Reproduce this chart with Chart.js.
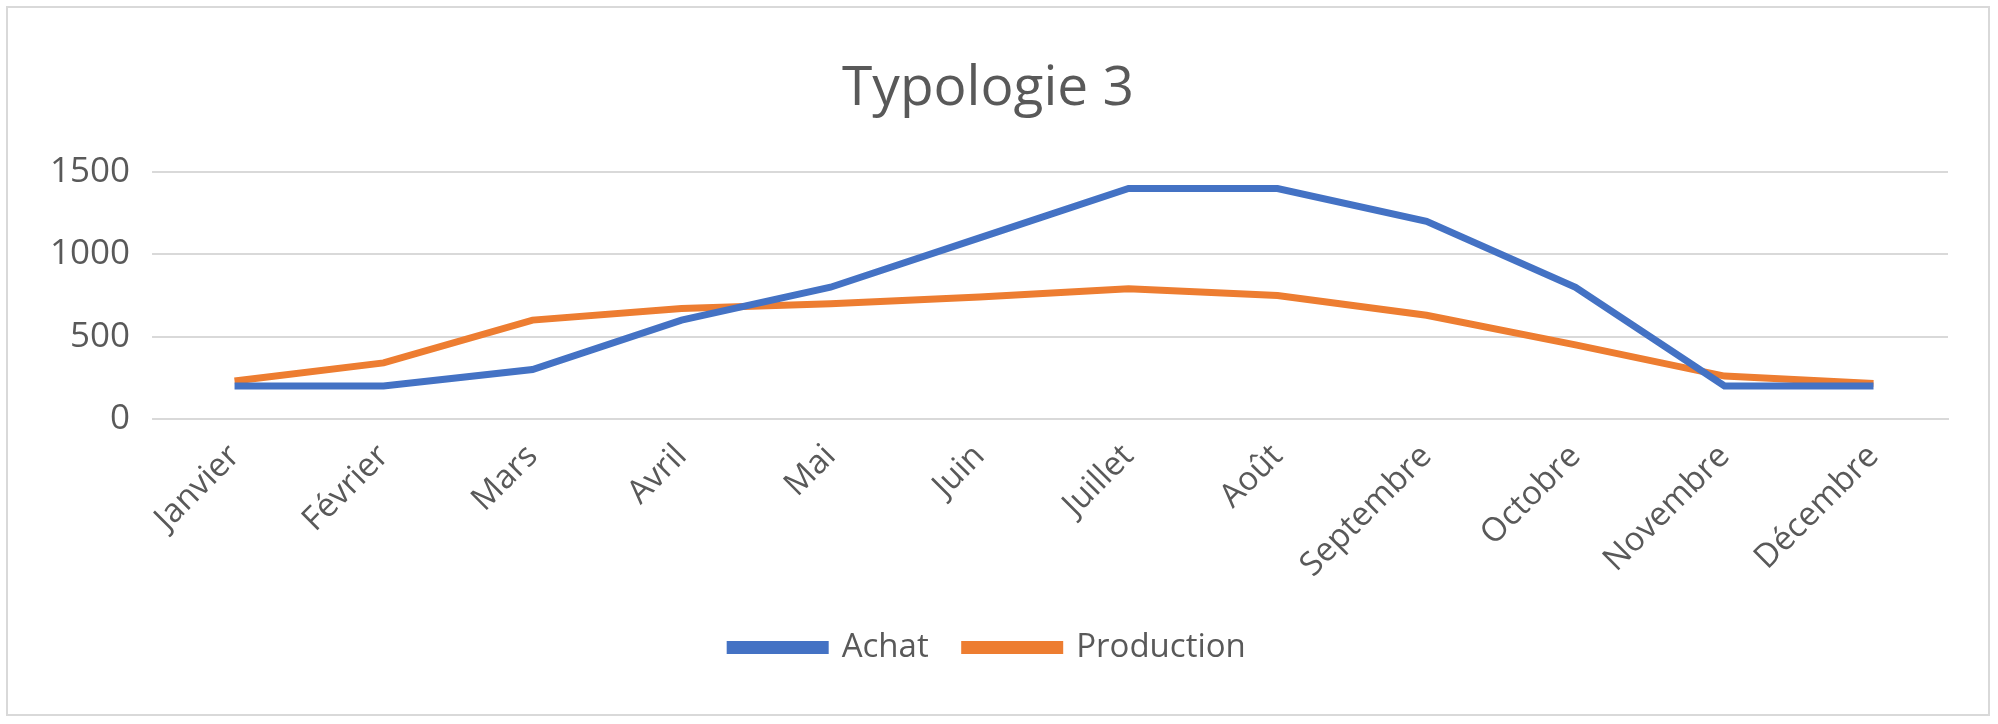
<!DOCTYPE html>
<html><head><meta charset="utf-8">
<script src="https://cdn.jsdelivr.net/npm/chart.js"></script>
<style>
html,body{margin:0;padding:0;background:#fff;}
#wrap{position:absolute;left:6px;top:6px;width:1984px;height:710px;border:2px solid #d9d9d9;box-sizing:border-box;}
</style></head>
<body><div id="wrap"><canvas id="c"></canvas></div>
<script>
const categories=['Janvier','Février','Mars','Avril','Mai','Juin','Juillet','Août','Septembre','Octobre','Novembre','Décembre'];
const achat=[200,200,300,600,800,1100,1400,1400,1200,800,200,200];
const production=[230,340,600,670,700,740,790,750,630,450,260,215];
const yTicks=[0,500,1000,1500];
Chart.defaults.font.family="'Open Sans','Noto Sans',sans-serif";
Chart.defaults.color='#595959';
new Chart(document.getElementById('c'),{
type:'line',
data:{labels:categories,datasets:[
{label:'Achat',data:achat,borderColor:'#4472c4',backgroundColor:'#4472c4',borderWidth:7,pointRadius:0,tension:0},
{label:'Production',data:production,borderColor:'#ed7d31',backgroundColor:'#ed7d31',borderWidth:7,pointRadius:0,tension:0}
]},
options:{responsive:true,maintainAspectRatio:false,animation:false,
layout:{padding:{left:20,right:40,top:20,bottom:40}},
plugins:{
title:{display:true,text:'Typologie 3',font:{size:55,weight:'normal'},color:'#595959',padding:{top:28,bottom:50}},
legend:{position:'bottom',labels:{boxWidth:95,boxHeight:6,font:{size:33},color:'#595959',padding:36}},
tooltip:{enabled:false}},
scales:{
x:{offset:true,grid:{display:false},border:{color:'#d9d9d9',width:2},
ticks:{maxRotation:45,minRotation:45,font:{size:33},color:'#595959',padding:10}},
y:{min:0,max:1500,afterBuildTicks:a=>{a.ticks=yTicks.map(v=>({value:v}));},
grid:{color:'#d9d9d9',lineWidth:2},border:{display:false},
ticks:{font:{size:35},color:'#595959',padding:22,callback:v=>String(v)}}
}}});
</script></body></html>
